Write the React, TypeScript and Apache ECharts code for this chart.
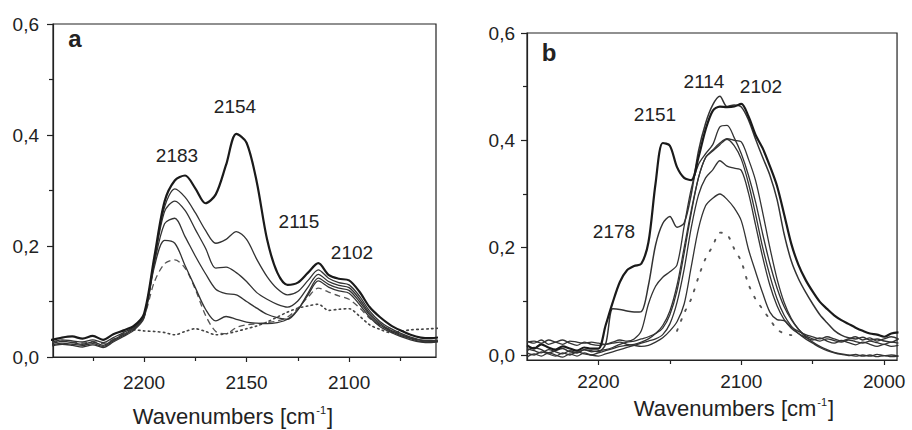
import { useEffect, useRef } from "react";
import * as echarts from "echarts";

// wavenumber grids (cm-1), one per panel
const waveA = [
  2250, 2245, 2240, 2235, 2230, 2225, 2220, 2215, 2210, 2205, 2200, 2195, 2190, 2185, 2180, 2175, 2170, 2165, 2160, 2155,
  2150, 2145, 2140, 2135, 2130, 2125, 2120, 2115, 2110, 2105, 2100, 2095, 2090, 2085, 2080, 2075, 2070, 2065, 2060, 2055,
];
const waveB = [
  2250, 2245, 2240, 2235, 2230, 2225, 2220, 2215, 2210, 2205, 2200, 2195, 2190, 2185, 2180, 2175, 2170, 2165, 2160, 2155,
  2150, 2145, 2140, 2135, 2130, 2125, 2120, 2115, 2110, 2105, 2100, 2095, 2090, 2085, 2080, 2075, 2070, 2065, 2060, 2055,
  2050, 2045, 2040, 2035, 2030, 2025, 2020, 2015, 2010, 2005, 2000, 1995, 1990,
];

// panel a absorbance
const a1 = [
  0.030, 0.031, 0.035, 0.037, 0.033, 0.038, 0.031, 0.041, 0.048, 0.056, 0.078, 0.180, 0.280, 0.318, 0.327, 0.304, 0.277, 0.293, 0.346, 0.402,
  0.386, 0.315, 0.212, 0.152, 0.130, 0.134, 0.152, 0.169, 0.148, 0.141, 0.138, 0.118, 0.090, 0.072, 0.058, 0.048, 0.040, 0.035, 0.034, 0.036,
];
const a2 = [
  0.026, 0.027, 0.031, 0.029, 0.027, 0.031, 0.026, 0.035, 0.044, 0.054, 0.076, 0.176, 0.270, 0.303, 0.288, 0.260, 0.228, 0.205, 0.212, 0.226,
  0.212, 0.176, 0.145, 0.123, 0.112, 0.118, 0.138, 0.157, 0.142, 0.134, 0.130, 0.110, 0.083, 0.064, 0.052, 0.043, 0.036, 0.031, 0.030, 0.031,
];
const a3 = [
  0.022, 0.024, 0.028, 0.026, 0.023, 0.027, 0.021, 0.031, 0.041, 0.052, 0.074, 0.172, 0.262, 0.281, 0.264, 0.230, 0.196, 0.160, 0.162, 0.152,
  0.136, 0.116, 0.104, 0.095, 0.090, 0.101, 0.126, 0.149, 0.136, 0.129, 0.125, 0.105, 0.079, 0.061, 0.049, 0.041, 0.034, 0.030, 0.028, 0.030,
];
const a4 = [
  0.020, 0.022, 0.025, 0.023, 0.021, 0.024, 0.019, 0.029, 0.039, 0.050, 0.072, 0.168, 0.240, 0.250, 0.217, 0.182, 0.150, 0.122, 0.114, 0.112,
  0.100, 0.088, 0.077, 0.071, 0.068, 0.085, 0.115, 0.142, 0.131, 0.124, 0.120, 0.100, 0.076, 0.058, 0.047, 0.039, 0.033, 0.028, 0.027, 0.029,
];
const a5 = [
  0.018, 0.020, 0.023, 0.021, 0.018, 0.022, 0.017, 0.027, 0.037, 0.048, 0.070, 0.162, 0.210, 0.205, 0.165, 0.125, 0.086, 0.065, 0.073, 0.068,
  0.063, 0.061, 0.060, 0.062, 0.068, 0.085, 0.112, 0.137, 0.126, 0.119, 0.115, 0.095, 0.072, 0.055, 0.045, 0.037, 0.031, 0.027, 0.026, 0.028,
];
const a6 = [
  0.024, 0.026, 0.029, 0.027, 0.025, 0.028, 0.024, 0.032, 0.042, 0.052, 0.073, 0.135, 0.168, 0.175, 0.160, 0.122, 0.075, 0.046, 0.042, 0.053,
  0.058, 0.060, 0.062, 0.065, 0.072, 0.088, 0.108, 0.124, 0.117, 0.110, 0.104, 0.089, 0.070, 0.057, 0.049, 0.041, 0.035, 0.030, 0.029, 0.030,
];
const a7 = [
  null, null, null, null, null, null, null, null, 0.047, 0.049, 0.047, 0.046, 0.044, 0.040, 0.046, 0.051, 0.046, 0.040, 0.042, 0.046,
  0.051, 0.056, 0.063, 0.072, 0.081, 0.088, 0.092, 0.095, 0.084, 0.086, 0.087, 0.074, 0.058, 0.050, 0.044, 0.046, 0.049, 0.050, 0.051, 0.052,
];

// panel b absorbance
const b1 = [
  0.018, 0.012, 0.020, 0.014, 0.010, 0.016, 0.012, 0.008, 0.014, 0.012, 0.012, 0.055, 0.098, 0.136, 0.158, 0.166, 0.170, 0.210, 0.320, 0.395,
  0.390, 0.350, 0.330, 0.326, 0.368, 0.420, 0.455, 0.463, 0.462, 0.463, 0.468, 0.445, 0.410, 0.385, 0.352, 0.315, 0.262, 0.207, 0.168, 0.140,
  0.118, 0.099, 0.086, 0.074, 0.065, 0.058, 0.051, 0.045, 0.040, 0.038, 0.034, 0.040, 0.042,
];
const b2 = [
  0.008, 0.014, 0.010, 0.004, 0.008, 0.012, 0.006, 0.004, 0.010, 0.008, 0.006, 0.020, 0.086, 0.085, 0.082, 0.080, 0.081, 0.130, 0.205, 0.245,
  0.258, 0.238, 0.246, 0.300, 0.380, 0.432, 0.466, 0.482, 0.463, 0.466, 0.462, 0.438, 0.402, 0.368, 0.335, 0.290, 0.225, 0.175, 0.142, 0.117,
  0.095, 0.075, 0.060, 0.046, 0.037, 0.032, 0.030, 0.033, 0.028, 0.030, 0.026, 0.024, 0.030,
];
const b3 = [
  0.024, 0.026, 0.022, 0.028, 0.024, 0.020, 0.026, 0.024, 0.022, 0.024, 0.022, 0.020, 0.024, 0.028, 0.026, 0.030, 0.045, 0.095, 0.128, 0.145,
  0.155, 0.168, 0.240, 0.310, 0.355, 0.375, 0.392, 0.425, 0.428, 0.405, 0.375, 0.335, 0.285, 0.225, 0.170, 0.125, 0.090, 0.066, 0.048, 0.036,
  0.030, 0.026, 0.030, 0.027, 0.024, 0.028, 0.025, 0.022, 0.026, 0.023, 0.020, 0.024, 0.022,
];
const b4 = [
  0.004, 0.000, 0.006, 0.002, -0.002, 0.004, 0.000, 0.006, 0.002, 0.000, 0.004, 0.008, 0.012, 0.016, 0.018, 0.020, 0.024, 0.030, 0.040, 0.055,
  0.082, 0.130, 0.200, 0.270, 0.330, 0.368, 0.382, 0.395, 0.403, 0.400, 0.397, 0.365, 0.325, 0.265, 0.200, 0.142, 0.098, 0.068, 0.048, 0.034,
  0.024, 0.016, 0.010, 0.005, 0.002, 0.000, -0.002, 0.000, -0.002, 0.001, -0.001, 0.000, -0.002,
];
const b5 = [
  0.012, 0.008, 0.004, 0.010, 0.006, 0.002, 0.008, 0.004, 0.010, 0.006, 0.008, 0.010, 0.014, 0.020, 0.024, 0.026, 0.030, 0.034, 0.040, 0.050,
  0.075, 0.120, 0.190, 0.265, 0.330, 0.368, 0.380, 0.392, 0.402, 0.390, 0.365, 0.320, 0.262, 0.200, 0.148, 0.105, 0.074, 0.054, 0.040, 0.030,
  0.022, 0.014, 0.008, 0.004, 0.001, -0.001, 0.001, -0.002, 0.000, -0.003, -0.001, -0.003, -0.002,
];
const b6 = [
  -0.004, 0.002, -0.002, 0.004, 0.000, -0.004, 0.002, -0.002, 0.004, 0.000, -0.002, 0.002, 0.006, 0.010, 0.014, 0.018, 0.022, 0.026, 0.030, 0.038,
  0.058, 0.098, 0.160, 0.238, 0.298, 0.330, 0.345, 0.362, 0.352, 0.348, 0.344, 0.302, 0.242, 0.182, 0.130, 0.092, 0.066, 0.050, 0.040, 0.033,
  0.028, 0.032, 0.026, 0.022, 0.027, 0.023, 0.019, 0.024, 0.020, 0.016, 0.020, 0.016, 0.018,
];
const b7 = [
  0.026, 0.022, 0.028, 0.020, 0.024, 0.028, 0.022, 0.018, 0.024, 0.020, 0.018, 0.020, 0.022, 0.024, 0.020, 0.018, 0.016, 0.018, 0.024, 0.032,
  0.045, 0.062, 0.095, 0.165, 0.235, 0.278, 0.292, 0.300, 0.290, 0.274, 0.250, 0.197, 0.155, 0.115, 0.080, 0.066, 0.064, 0.052, 0.044, 0.038,
  0.034, 0.030, 0.034, 0.030, 0.026, 0.030, 0.034, 0.028, 0.032, 0.026, 0.030, 0.034, 0.030,
];
const b8 = [
  null, null, null, null, null, null, null, null, null, null, null, null, null, null, null, null, null, null, null, null,
  null, 0.045, 0.078, 0.105, 0.145, 0.180, 0.203, 0.228, 0.225, 0.198, 0.174, 0.132, 0.104, 0.085, 0.066, 0.048, 0.040, 0.037, null, null,
  null, null, null, null, null, null, null, null, null, null, null, null, null,
];

const xMajorA = [2200, 2150, 2100];
const xMinorA = [2225, 2175, 2125, 2075];
const xMajorB = [2200, 2100, 2000];
const xMinorB = [2150, 2050];
const yMajor = [0, 0.2, 0.4, 0.6];
const yMinor = [0.1, 0.3, 0.5];

const peaksA = [
  { text: "2183", x: 177, y: 155 },
  { text: "2154", x: 235, y: 106 },
  { text: "2115", x: 299, y: 221 },
  { text: "2102", x: 352, y: 252 },
];
const peaksB = [
  { text: "2178", x: 614, y: 231 },
  { text: "2151", x: 655, y: 114 },
  { text: "2114", x: 704, y: 81 },
  { text: "2102", x: 761, y: 86 },
];

const FONT = "Liberation Sans, Arial, sans-serif";
const INK = "#222";

function pairs(xs: number[], ys: (number | null)[]) {
  const out: [number, number][] = [];
  ys.forEach((y, i) => {
    if (y !== null) out.push([xs[i], y]);
  });
  return out;
}

function curve(xs: number[], ys: (number | null)[], axis: number, lineStyle: any) {
  return {
    type: "line",
    data: pairs(xs, ys),
    xAxisIndex: axis,
    yAxisIndex: axis,
    showSymbol: false,
    smooth: 0.3,
    silent: true,
    lineStyle: { color: "#333", width: 1.3, ...lineStyle },
  };
}

function xAxes(grid: number, min: number, max: number, major: number[], minor: number[], margin: number) {
  const base = { type: "value", gridIndex: grid, min, max, inverse: true, position: "bottom", splitLine: { show: false } };
  return [
    {
      ...base,
      axisLine: { show: true, onZero: false, lineStyle: { color: INK, width: 1.2 } },
      axisTick: { show: true, length: 5, customValues: major, lineStyle: { color: INK, width: 1.2 } },
      axisLabel: { customValues: major, margin, fontSize: 19, color: INK, fontFamily: FONT, formatter: (v: number) => String(v) },
    },
    {
      ...base,
      axisLine: { show: false, onZero: false },
      axisTick: { show: true, length: 4, customValues: minor, lineStyle: { color: INK, width: 1.2 } },
      axisLabel: { show: false },
    },
  ];
}

function yAxes(grid: number, min: number, margin: number) {
  const base = { type: "value", gridIndex: grid, min, max: 0.6, position: "left", splitLine: { show: false } };
  return [
    {
      ...base,
      axisLine: { show: true, onZero: false, lineStyle: { color: INK, width: 1.2 } },
      axisTick: { show: true, length: 6, customValues: yMajor, lineStyle: { color: INK, width: 1.2 } },
      axisLabel: {
        customValues: yMajor, margin, fontSize: 19, color: INK, fontFamily: FONT,
        formatter: (v: number) => v.toFixed(1).replace(".", ","),
      },
    },
    {
      ...base,
      axisLine: { show: false, onZero: false },
      axisTick: { show: true, length: 4, customValues: yMinor, lineStyle: { color: INK, width: 1.2 } },
      axisLabel: { show: false },
    },
  ];
}

function label(text: string, x: number, y: number, size = 19, weight = "normal") {
  return {
    type: "text", x, y, silent: true,
    style: { text, fill: INK, font: `${weight} ${size}px ${FONT}`, align: "center", verticalAlign: "middle" },
  };
}

function axisName(x: number, y: number) {
  return {
    type: "text", x, y, silent: true,
    style: {
      text: "{n|Wavenumbers [cm}{s|-1}{n|]}",
      align: "center", verticalAlign: "middle",
      rich: {
        n: { fontSize: 22, fontFamily: FONT, fill: INK, lineHeight: 24 },
        s: { fontSize: 11, fontFamily: FONT, fill: INK, padding: [0, 1, 12, 1] },
      },
    },
  };
}

export default function App() {
  const ref = useRef<HTMLDivElement>(null);

  useEffect(() => {
    if (!ref.current) return;
    const chart = echarts.init(ref.current, undefined, { renderer: "svg" });
    const thick = { color: "#1a1a1a", width: 2.2 };
    chart.setOption({
      animation: false,
      backgroundColor: "#fff",
      grid: [
        { left: 53, top: 24, width: 383, height: 333, show: true, borderColor: INK, borderWidth: 1.2 },
        { left: 527, top: 33, width: 374, height: 327, show: true, borderColor: INK, borderWidth: 1.2 },
      ],
      xAxis: [
        ...xAxes(0, 2057.6, 2244.4, xMajorA, xMinorA, 16),
        ...xAxes(1, 1991, 2250, xMajorB, xMinorB, 12),
      ],
      yAxis: [...yAxes(0, 0, 14), ...yAxes(1, -0.0093, 12)],
      series: [
        curve(waveA, a7, 0, { type: [1.5, 3.5], width: 1.6, cap: "round", color: "#444" }),
        curve(waveA, a6, 0, { type: [6, 4], color: "#555" }),
        curve(waveA, a5, 0, {}),
        curve(waveA, a4, 0, {}),
        curve(waveA, a3, 0, {}),
        curve(waveA, a2, 0, {}),
        curve(waveA, a1, 0, thick),
        curve(waveB, b8, 2, { type: [1.8, 9], width: 1.9, cap: "round", color: "#555" }),
        curve(waveB, b7, 2, {}),
        curve(waveB, b6, 2, {}),
        curve(waveB, b5, 2, {}),
        curve(waveB, b4, 2, {}),
        curve(waveB, b3, 2, {}),
        curve(waveB, b2, 2, { width: 1.5 }),
        curve(waveB, b1, 2, thick),
      ],
      graphic: [
        label("a", 75, 38, 24, "bold"),
        label("b", 549, 52, 24, "bold"),
        ...peaksA.map((p) => label(p.text, p.x, p.y)),
        ...peaksB.map((p) => label(p.text, p.x, p.y)),
        axisName(233, 416),
        axisName(734, 408),
      ],
    });
    return () => chart.dispose();
  }, []);

  return (
    <div
      ref={ref}
      style={{ position: "fixed", left: 0, top: 0, width: 912, height: 430, background: "#fff" }}
    />
  );
}
